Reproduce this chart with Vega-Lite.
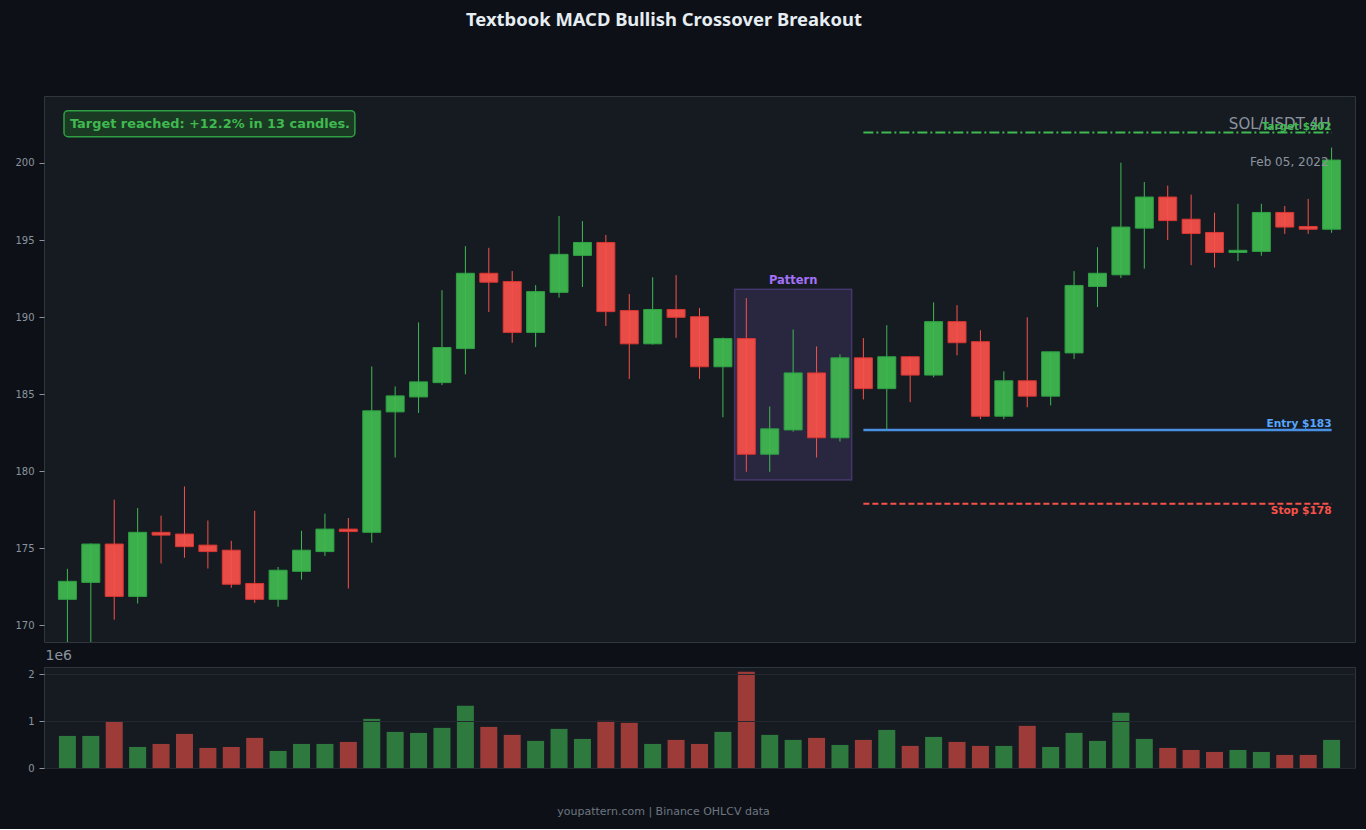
{
  "$schema": "https://vega.github.io/schema/vega-lite/v6.json",
  "background": "#0d1117",
  "padding": {"left": 14, "top": 11, "right": 11, "bottom": 12},
  "title": {"text": "Textbook MACD Bullish Crossover Breakout", "font": "Noto Sans", "fontSize": 18.4, "fontWeight": "bold", "color": "#e6edf3", "anchor": "middle", "offset": 66, "dx": -21},
  "bounds": "flush",
  "spacing": 25,
  "config": {
    "view": {"fill": "#161b22", "stroke": "#30363d", "strokeWidth": 1},
    "font": "DejaVu Sans",
    "axis": {"labelColor": "#8b949e", "labelFont": "DejaVu Sans", "labelFontSize": 10, "tickColor": "#8b949e", "tickSize": 5, "labelPadding": 5, "domain": false, "gridColor": "#20252d", "gridWidth": 1}
  },
  "datasets": {
    "ohlcv": [
      {"i": 0, "open": 171.67, "high": 173.65, "low": 168.4, "close": 172.84, "volume": 683000},
      {"i": 1, "open": 172.77, "high": 175.3, "low": 168.4, "close": 175.26, "volume": 683000},
      {"i": 2, "open": 175.26, "high": 178.14, "low": 170.35, "close": 171.86, "volume": 982000},
      {"i": 3, "open": 171.86, "high": 177.6, "low": 171.4, "close": 176.02, "volume": 448000},
      {"i": 4, "open": 176.02, "high": 177.1, "low": 174.0, "close": 175.84, "volume": 512000},
      {"i": 5, "open": 175.91, "high": 179.0, "low": 174.37, "close": 175.09, "volume": 726000},
      {"i": 6, "open": 175.19, "high": 176.79, "low": 173.67, "close": 174.77, "volume": 427000},
      {"i": 7, "open": 174.86, "high": 175.47, "low": 172.42, "close": 172.65, "volume": 448000},
      {"i": 8, "open": 172.7, "high": 177.42, "low": 171.44, "close": 171.67, "volume": 641000},
      {"i": 9, "open": 171.67, "high": 173.77, "low": 171.19, "close": 173.56, "volume": 363000},
      {"i": 10, "open": 173.49, "high": 176.12, "low": 172.95, "close": 174.86, "volume": 512000},
      {"i": 11, "open": 174.77, "high": 177.23, "low": 174.49, "close": 176.23, "volume": 512000},
      {"i": 12, "open": 176.23, "high": 176.95, "low": 172.37, "close": 176.07, "volume": 555000},
      {"i": 13, "open": 176.02, "high": 186.79, "low": 175.35, "close": 183.91, "volume": 1046000},
      {"i": 14, "open": 183.84, "high": 185.49, "low": 180.88, "close": 184.88, "volume": 769000},
      {"i": 15, "open": 184.81, "high": 189.65, "low": 183.77, "close": 185.79, "volume": 747000},
      {"i": 16, "open": 185.74, "high": 191.74, "low": 185.58, "close": 188.02, "volume": 854000},
      {"i": 17, "open": 187.95, "high": 194.6, "low": 186.28, "close": 192.84, "volume": 1324000},
      {"i": 18, "open": 192.84, "high": 194.49, "low": 190.33, "close": 192.26, "volume": 875000},
      {"i": 19, "open": 192.3, "high": 192.98, "low": 188.33, "close": 189.0, "volume": 705000},
      {"i": 20, "open": 189.0, "high": 192.07, "low": 188.05, "close": 191.65, "volume": 577000},
      {"i": 21, "open": 191.6, "high": 196.56, "low": 191.26, "close": 194.07, "volume": 833000},
      {"i": 22, "open": 194.0, "high": 196.23, "low": 191.95, "close": 194.84, "volume": 619000},
      {"i": 23, "open": 194.84, "high": 195.33, "low": 189.42, "close": 190.35, "volume": 1004000},
      {"i": 24, "open": 190.42, "high": 191.49, "low": 185.98, "close": 188.26, "volume": 961000},
      {"i": 25, "open": 188.26, "high": 192.58, "low": 188.21, "close": 190.49, "volume": 512000},
      {"i": 26, "open": 190.49, "high": 192.72, "low": 188.65, "close": 189.98, "volume": 598000},
      {"i": 27, "open": 190.02, "high": 190.58, "low": 185.98, "close": 186.77, "volume": 512000},
      {"i": 28, "open": 186.77, "high": 188.67, "low": 183.49, "close": 188.6, "volume": 769000},
      {"i": 29, "open": 188.6, "high": 191.23, "low": 179.95, "close": 181.09, "volume": 2050000},
      {"i": 30, "open": 181.09, "high": 184.19, "low": 179.95, "close": 182.74, "volume": 705000},
      {"i": 31, "open": 182.67, "high": 189.19, "low": 182.56, "close": 186.37, "volume": 598000},
      {"i": 32, "open": 186.37, "high": 188.09, "low": 180.88, "close": 182.16, "volume": 641000},
      {"i": 33, "open": 182.16, "high": 187.58, "low": 181.91, "close": 187.35, "volume": 491000},
      {"i": 34, "open": 187.35, "high": 188.63, "low": 184.65, "close": 185.35, "volume": 598000},
      {"i": 35, "open": 185.35, "high": 189.47, "low": 182.72, "close": 187.42, "volume": 811000},
      {"i": 36, "open": 187.42, "high": 187.45, "low": 184.47, "close": 186.23, "volume": 470000},
      {"i": 37, "open": 186.23, "high": 190.95, "low": 186.09, "close": 189.7, "volume": 662000},
      {"i": 38, "open": 189.7, "high": 190.77, "low": 187.51, "close": 188.33, "volume": 555000},
      {"i": 39, "open": 188.4, "high": 189.14, "low": 183.37, "close": 183.56, "volume": 470000},
      {"i": 40, "open": 183.56, "high": 186.47, "low": 183.37, "close": 185.86, "volume": 470000},
      {"i": 41, "open": 185.86, "high": 189.98, "low": 184.14, "close": 184.86, "volume": 897000},
      {"i": 42, "open": 184.86, "high": 187.76, "low": 184.26, "close": 187.74, "volume": 448000},
      {"i": 43, "open": 187.67, "high": 192.98, "low": 187.28, "close": 192.05, "volume": 747000},
      {"i": 44, "open": 191.98, "high": 194.53, "low": 190.65, "close": 192.84, "volume": 577000},
      {"i": 45, "open": 192.74, "high": 200.02, "low": 192.53, "close": 195.84, "volume": 1174000},
      {"i": 46, "open": 195.77, "high": 198.77, "low": 193.14, "close": 197.79, "volume": 619000},
      {"i": 47, "open": 197.79, "high": 198.53, "low": 195.0, "close": 196.26, "volume": 427000},
      {"i": 48, "open": 196.35, "high": 197.95, "low": 193.37, "close": 195.42, "volume": 384000},
      {"i": 49, "open": 195.49, "high": 196.77, "low": 193.21, "close": 194.19, "volume": 342000},
      {"i": 50, "open": 194.19, "high": 197.35, "low": 193.63, "close": 194.33, "volume": 384000},
      {"i": 51, "open": 194.26, "high": 197.35, "low": 193.98, "close": 196.79, "volume": 342000},
      {"i": 52, "open": 196.79, "high": 197.21, "low": 195.4, "close": 195.84, "volume": 278000},
      {"i": 53, "open": 195.88, "high": 197.67, "low": 195.4, "close": 195.7, "volume": 278000},
      {"i": 54, "open": 195.7, "high": 201.0, "low": 195.47, "close": 200.19, "volume": 598000}
    ]
  },
  "vconcat": [
    {
      "width": 1311,
      "height": 546,
      "layer": [
        {
          "data": {"values": [{}]},
          "mark": {"type": "rect", "fill": "#a371f7", "fillOpacity": 0.14, "stroke": "#a371f7", "strokeOpacity": 0.28, "strokeWidth": 1.5},
          "encoding": {
            "x": {"datum": 28.5, "type": "quantitative", "scale": {"domain": [-1, 55], "nice": false, "zero": false, "padding": 0}, "axis": null},
            "x2": {"datum": 33.5},
            "y": {"datum": 191.8, "type": "quantitative", "scale": {"domain": [168.9, 204.35], "nice": false, "zero": false}, "axis": {"values": [170, 175, 180, 185, 190, 195, 200], "title": null}},
            "y2": {"datum": 179.42}
          }
        },
        {
          "data": {"name": "ohlcv"},
          "mark": {"type": "rule", "strokeWidth": 1, "clip": true},
          "encoding": {
            "x": {"field": "i", "type": "quantitative"},
            "y": {"field": "low", "type": "quantitative"},
            "y2": {"field": "high"},
            "color": {"condition": {"test": "datum.close >= datum.open", "value": "#3fb950"}, "value": "#f85149"}
          }
        },
        {
          "data": {"name": "ohlcv"},
          "mark": {"type": "bar", "size": 18, "strokeWidth": 1, "fillOpacity": 0.93, "clip": true},
          "encoding": {
            "x": {"field": "i", "type": "quantitative"},
            "y": {"field": "open", "type": "quantitative"},
            "y2": {"field": "close"},
            "fill": {"condition": {"test": "datum.close >= datum.open", "value": "#3fb950"}, "value": "#f85149"},
            "stroke": {"condition": {"test": "datum.close >= datum.open", "value": "#2ea043"}, "value": "#da3633"}
          }
        },
        {
          "data": {"values": [{}]},
          "mark": {"type": "rule", "color": "#3fb950", "strokeWidth": 2, "strokeDash": [10, 3, 2, 3]},
          "encoding": {"x": {"datum": 34, "type": "quantitative"}, "x2": {"datum": 54}, "y": {"datum": 201.98, "type": "quantitative"}}
        },
        {
          "data": {"values": [{}]},
          "mark": {"type": "rule", "color": "#4a90e2", "strokeWidth": 2.5},
          "encoding": {"x": {"datum": 34, "type": "quantitative"}, "x2": {"datum": 54}, "y": {"datum": 182.67, "type": "quantitative"}}
        },
        {
          "data": {"values": [{}]},
          "mark": {"type": "rule", "color": "#f85149", "strokeWidth": 2, "strokeDash": [6, 3]},
          "encoding": {"x": {"datum": 34, "type": "quantitative"}, "x2": {"datum": 54}, "y": {"datum": 177.88, "type": "quantitative"}}
        },
        {
          "data": {"values": [{}]},
          "mark": {"type": "text", "text": "SOL/USDT 4H", "font": "DejaVu Sans", "fontSize": 15, "color": "#8b949e", "align": "right", "baseline": "middle"},
          "encoding": {"x": {"datum": 53.95, "type": "quantitative"}, "y": {"datum": 202.55, "type": "quantitative"}}
        },
        {
          "data": {"values": [{}]},
          "mark": {"type": "text", "text": "Feb 05, 2022", "font": "DejaVu Sans", "fontSize": 12, "color": "#8b949e", "align": "right", "baseline": "middle"},
          "encoding": {"x": {"datum": 53.87, "type": "quantitative"}, "y": {"datum": 200.08, "type": "quantitative"}}
        },
        {
          "data": {"values": [{}]},
          "mark": {"type": "text", "text": "Target $202", "font": "DejaVu Sans", "fontSize": 10.4, "fontWeight": "bold", "color": "#3fb950", "align": "right", "baseline": "bottom", "dy": -1},
          "encoding": {"x": {"datum": 54, "type": "quantitative"}, "y": {"datum": 201.98, "type": "quantitative"}}
        },
        {
          "data": {"values": [{}]},
          "mark": {"type": "text", "text": "Entry $183", "font": "DejaVu Sans", "fontSize": 10.6, "fontWeight": "bold", "color": "#58a6ff", "align": "right", "baseline": "bottom", "dy": -1},
          "encoding": {"x": {"datum": 54, "type": "quantitative"}, "y": {"datum": 182.67, "type": "quantitative"}}
        },
        {
          "data": {"values": [{}]},
          "mark": {"type": "text", "text": "Stop $178", "font": "DejaVu Sans", "fontSize": 10.6, "fontWeight": "bold", "color": "#f85149", "align": "right", "baseline": "top", "dy": 2},
          "encoding": {"x": {"datum": 54, "type": "quantitative"}, "y": {"datum": 177.88, "type": "quantitative"}}
        },
        {
          "data": {"values": [{}]},
          "mark": {"type": "text", "text": "Pattern", "font": "DejaVu Sans", "fontSize": 11.5, "fontWeight": "bold", "color": "#a371f7", "align": "center", "baseline": "bottom", "dy": -3},
          "encoding": {"x": {"datum": 31, "type": "quantitative"}, "y": {"datum": 191.8, "type": "quantitative"}}
        },
        {
          "data": {"values": [{}]},
          "mark": {"type": "rect", "fill": "#1b3a23", "stroke": "#2ea043", "strokeWidth": 1.5, "cornerRadius": 4},
          "encoding": {"x": {"datum": -0.146, "type": "quantitative"}, "x2": {"datum": 12.28}, "y": {"datum": 203.4, "type": "quantitative"}, "y2": {"datum": 201.71}}
        },
        {
          "data": {"values": [{}]},
          "mark": {"type": "text", "text": "Target reached: +12.2% in 13 candles.", "font": "DejaVu Sans", "fontSize": 12.9, "fontWeight": "bold", "color": "#3fb950", "align": "left", "baseline": "middle"},
          "encoding": {"x": {"datum": 0.11, "type": "quantitative"}, "y": {"datum": 202.55, "type": "quantitative"}}
        }
      ]
    },
    {
      "width": 1311,
      "height": 101,
      "data": {"name": "ohlcv"},
      "mark": {"type": "bar", "size": 17, "fillOpacity": 0.6},
      "encoding": {
        "x": {"field": "i", "type": "quantitative", "scale": {"domain": [-1, 55], "nice": false, "zero": false, "padding": 0}, "axis": {"labels": false, "ticks": false, "grid": false, "domain": false, "title": "youpattern.com | Binance OHLCV data", "titleFont": "DejaVu Sans", "titleFontSize": 11, "titleFontWeight": "normal", "titleColor": "#6e7681", "titleX": 619, "titleY": 37, "titleAlign": "center", "titleBaseline": "top"}},
        "y": {"field": "volume", "type": "quantitative", "scale": {"domain": [0, 2150000], "nice": false}, "axis": {"values": [0, 1000000, 2000000], "labelExpr": "datum.value / 1000000", "zindex": 1, "gridColor": "#232830", "title": "1e6", "titleAngle": 0, "titleAlign": "left", "titleBaseline": "middle", "titleX": 1, "titleY": -12, "titleFont": "DejaVu Sans", "titleFontSize": 14, "titleFontWeight": "normal", "titleColor": "#8b949e"}},
        "fill": {"condition": {"test": "datum.close >= datum.open", "value": "#3fb950"}, "value": "#f85149"}
      }
    }
  ]
}
